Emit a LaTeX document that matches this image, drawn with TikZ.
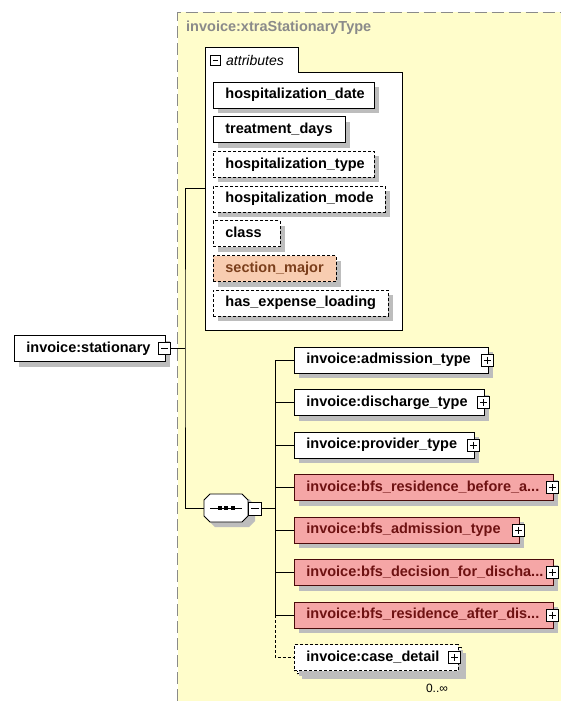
\documentclass[tikz,border=0pt]{standalone}
\usepackage{fontspec}
\setmainfont{Liberation Sans}
\usetikzlibrary{shadows}
\definecolor{bgY}{HTML}{FFFDCB}
\definecolor{shd}{HTML}{BDBDBD}
\definecolor{pinkF}{HTML}{F5A6A6}
\definecolor{pinkD}{HTML}{4A0A0A}
\definecolor{pinkT}{HTML}{6E1212}
\definecolor{peachF}{HTML}{F8CDB1}
\definecolor{peachT}{HTML}{7B3F1C}
\definecolor{titleG}{HTML}{8A8A8A}
\tikzset{
  elem/.style={draw=black, fill=white, anchor=west, minimum height=26pt,
    inner xsep=12pt, inner ysep=0pt, text height=10.5pt, text depth=3pt,
    font=\fontsize{14.5}{16}\selectfont\bfseries, line width=0.8pt,
    drop shadow={shadow xshift=5pt, shadow yshift=-5pt, fill=shd, opacity=1}},
  opt/.style={dash pattern=on 3pt off 2pt},
  pinkel/.style={fill=pinkF, draw=pinkD, text=pinkT},
  peachel/.style={fill=peachF, text=peachT},
  pbox/.style={draw=black, fill=white, minimum width=12pt, minimum height=12pt,
    inner sep=0pt, line width=0.7pt},
  plus/.style={pbox, path picture={
    \draw ([xshift=2.5pt]path picture bounding box.west) -- ([xshift=-2.5pt]path picture bounding box.east);
    \draw ([yshift=-2.5pt]path picture bounding box.north) -- ([yshift=2.5pt]path picture bounding box.south);}},
  minus/.style={pbox, path picture={
    \draw ([xshift=2.5pt]path picture bounding box.west) -- ([xshift=-2.5pt]path picture bounding box.east);}},
  conn/.style={line width=0.8pt}
}
\newcommand\elnode[6][]{\node[elem,#1,minimum width=#5pt] (#2) at (#3,#4) {\makebox[\dimexpr#5pt-24pt\relax][l]{#6}};}
\begin{document}
\begin{tikzpicture}[x=1pt,y=-1pt]
\useasboundingbox (0,0) rectangle (561,701);
\fill[white] (0,0) rectangle (561,701);
% type background
\fill[bgY] (178,12) rectangle (561,701);
\draw[titleG, line width=0.8pt, dash pattern=on 12pt off 5pt] (177.5,701) -- (177.5,12) -- (561,12);
\node[anchor=west, text=titleG, font=\fontsize{14.5}{16}\selectfont\bfseries, inner sep=0pt] (title) at (186,28) {invoice:xtraStationaryType};
% attributes container
\node[minimum width=197pt, minimum height=283pt, inner sep=0pt] (attr) at (303.5,188.5) {};
\draw[fill=white, line width=0.8pt] (205,330) -- (205,47) -- (298,47) -- (298,72) -- (402,72) -- (402,330) -- cycle;
\node[minus, minimum width=10pt, minimum height=10pt] (attrM) at (215,60) {};
\node[anchor=west, inner sep=0pt, font=\fontsize{14}{16}\selectfont\itshape] (attrT) at (226,60) {attributes};
% attributes
\elnode{hd}{213}{95}{161}{hospitalization\_date}
\elnode{td}{213}{129.7}{132}{treatment\_days}
\elnode[opt]{ht}{213}{164.4}{161}{hospitalization\_type}
\elnode[opt]{hm}{213}{199.1}{172}{hospitalization\_mode}
\elnode[opt]{cl}{213}{233.8}{67}{class}
\elnode[opt,peachel]{sm}{213}{268.5}{123}{section\_major}
\elnode[opt]{he}{213}{303.2}{175}{has\_expense\_loading}
% root element
\elnode{stat}{14}{348.5}{151}{invoice:stationary}
\node[minus] (statM) at (164.5,348.5) {};
% sequence compositor (octagon)
\node[minimum width=44pt, minimum height=28pt, inner sep=0pt] (seq) at (226,508) {};
\fill[shd] (215,499) -- (249,499) -- (255,505) -- (255,521) -- (249,527) -- (215,527) -- (209,521) -- (209,505) -- cycle;
\draw[fill=white, line width=0.8pt] (210,494) -- (242,494) -- (248,500) -- (248,516) -- (242,522) -- (210,522) -- (204,516) -- (204,500) -- cycle;
\draw[line width=0.8pt] ([xshift=-16pt]seq.center) -- ([xshift=16pt]seq.center);
\foreach \dx in {-6.5,0,6.5} \fill ([xshift=\dx pt]seq.center) +(-2,-2) rectangle +(2,2);
\node[minus, minimum width=13pt, minimum height=13pt] (seqM) at (255,508.5) {};
% children
\elnode{adm}{294}{360}{194}{invoice:admission\_type}
\elnode{dis}{294}{402.5}{190}{invoice:discharge\_type}
\elnode{prov}{294}{445}{180}{invoice:provider\_type}
\elnode[pinkel]{bfsb}{294}{487.5}{259}{invoice:bfs\_residence\_before\_a...}
\elnode[pinkel]{bfsadm}{294}{530}{225}{invoice:bfs\_admission\_type}
\elnode[pinkel]{bfsd}{294}{572.5}{259}{invoice:bfs\_decision\_for\_discha...}
\elnode[pinkel]{bfsa}{294}{615}{259}{invoice:bfs\_residence\_after\_dis...}
% case_detail (unbounded: stacked)
\node[elem, opt, minimum width=164pt] (caseBack) at (297,660.5) {};
\elnode[opt]{case}{294}{657.5}{164}{invoice:case\_detail}
\node[font=\fontsize{12}{14}\selectfont, inner sep=0pt] (occ) at (437,688) {0..∞};
% plus boxes
\foreach \n in {adm,dis,prov,bfsb,bfsadm,bfsd,bfsa}
  \node[plus] (\n P) at ([xshift=-1pt]\n.east) {};
\node[plus] (caseP) at ([xshift=-4pt]case.east) {};
% connectors
\coordinate (j1) at (185,348.5);
\coordinate (j2) at (275,508.5);
\draw[conn] (statM.east) -- (j1);
\draw[conn] (attr.west) -| (j1) |- (seq.west);
\draw[conn] (seqM.east) -- (j2);
\foreach \n in {adm,dis,prov,bfsb,bfsadm,bfsd,bfsa}
  \draw[conn] (\n.west) -- (\n.west -| j2);
\draw[conn] (adm.west -| j2) -- (bfsa.west -| j2);
\draw[conn, opt] (bfsa.west -| j2) |- (case.west);
\end{tikzpicture}
\end{document}
